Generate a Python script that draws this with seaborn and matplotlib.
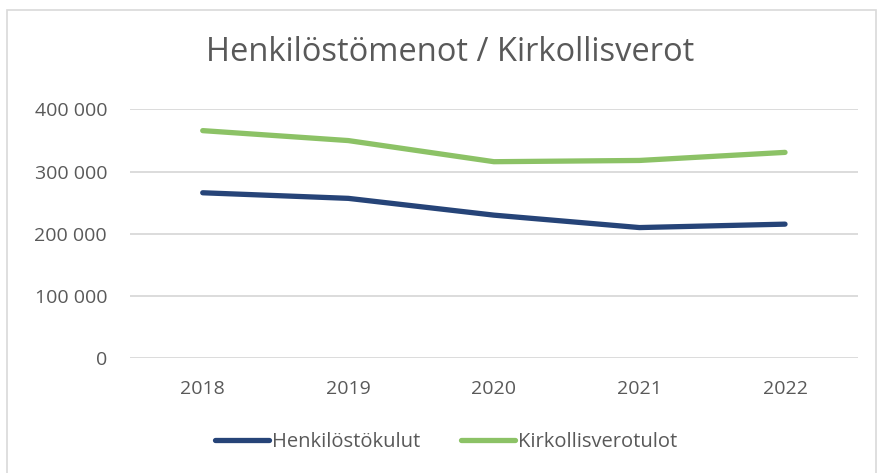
import pandas as pd
import matplotlib.pyplot as plt
import seaborn as sns
from matplotlib.ticker import FuncFormatter
from matplotlib.patches import Rectangle

# Values
years = ['2018', '2019', '2020', '2021', '2022']
henkilostokulut = [266000, 257000, 230000, 210000, 215500]
kirkollisverotulot = [366000, 350000, 316000, 318000, 331000]
series_names = ['Henkilöstökulut', 'Kirkollisverotulot']
palette = {'Henkilöstökulut': '#264478', 'Kirkollisverotulot': '#8cc266'}

df = pd.DataFrame({
    'Vuosi': years * 2,
    'Arvo': henkilostokulut + kirkollisverotulot,
    'Sarja': [series_names[0]] * len(years) + [series_names[1]] * len(years),
})

sns.set_style('white')
plt.rcParams['font.family'] = ['Open Sans', 'DejaVu Sans']
text_col = '#595959'

fig = plt.figure(figsize=(8.78, 4.73), dpi=100)
ax = fig.add_axes([0.148, 0.243, 0.829, 0.5255])

sns.lineplot(data=df, x='Vuosi', y='Arvo', hue='Sarja', palette=palette,
             linewidth=3.8, ax=ax, sort=False, legend=True)
for ln in ax.lines:
    ln.set_solid_capstyle('round')

ax.set_xlim(-0.5, len(years) - 0.5)
ax.set_ylim(0, 400000)
ax.set_yticks(range(0, 400001, 100000))
ax.yaxis.set_major_formatter(FuncFormatter(lambda v, p: f'{int(v):,}'.replace(',', ' ')))
ax.grid(axis='y', color='#d9d9d9', linewidth=1.3)
ax.grid(axis='x', visible=False)
for s in ax.spines.values():
    s.set_visible(False)
ax.tick_params(axis='both', length=0, labelsize=14, colors=text_col)
ax.tick_params(axis='x', pad=16)
ax.tick_params(axis='y', pad=16.5)
ax.set_xlabel('')
ax.set_ylabel('')

fig.text(0.5125, 0.888, 'Henkilöstömenot / Kirkollisverot', ha='center', va='center',
         fontsize=23.5, color=text_col)

handles, labels = ax.get_legend_handles_labels()
ax.get_legend().remove()
leg = fig.legend(handles, labels, loc='center', bbox_to_anchor=(0.508, 0.066), ncol=2,
                 frameon=False, fontsize=14.5, handlelength=2.7, handletextpad=0.15,
                 columnspacing=2.0, labelcolor=text_col)
for h in leg.get_lines():
    h.set_linewidth(3.8)
    h.set_solid_capstyle('round')

fig.patches.append(Rectangle((0.008, -0.05), 0.99, 1.029, transform=fig.transFigure,
                             fill=False, edgecolor='#d9d9d9', linewidth=1.2))

fig.savefig('out.png', dpi=100)
